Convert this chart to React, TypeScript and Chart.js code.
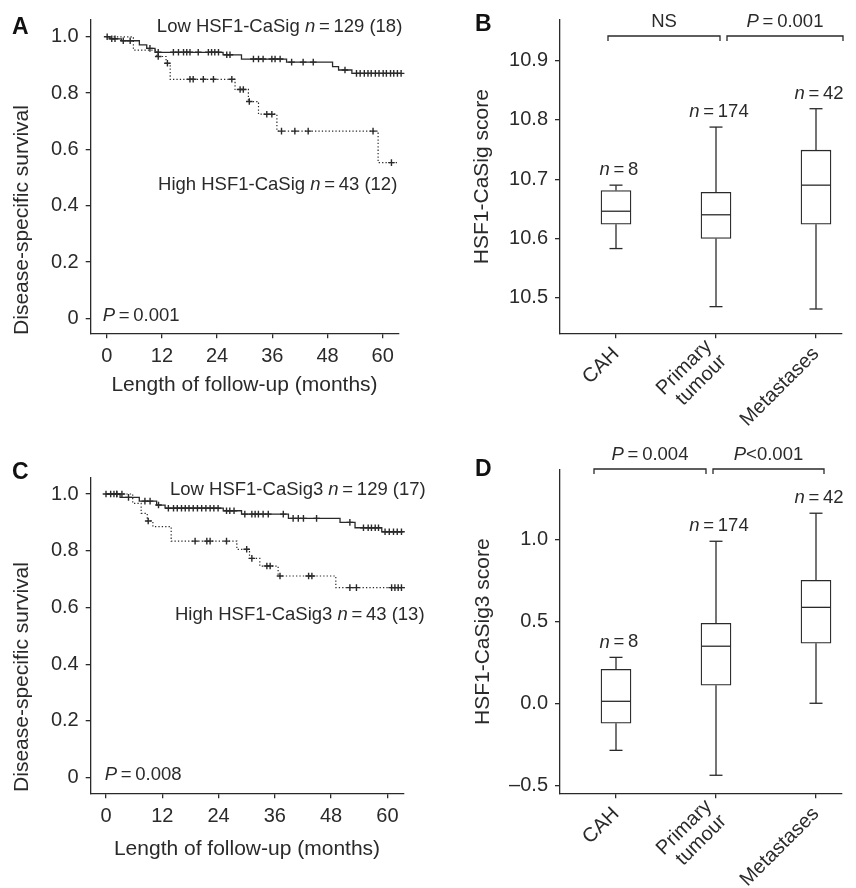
import React, { useEffect, useRef } from 'react';
import { Chart, registerables } from 'chart.js';

Chart.register(...registerables);

const FONT = "'Liberation Sans', Arial, Helvetica, sans-serif";
const INK = '#2a2a2a';
const TICK_SIZE = 20;
const TITLE_SIZE = 21;
const NOTE_SIZE = 18.5;
const LETTER_SIZE = 23;
const PANEL_W = 428;
const PANEL_H = 444;

// ---------- Kaplan-Meier panels (A, C) ----------
const monthTicks = [0, 12, 24, 36, 48, 60];
const survivalTicks = [0, 0.2, 0.4, 0.6, 0.8, 1.0];

// Panel A: HSF1-CaSig
const aLowTimes = [0, 0.7, 3.2, 7.1, 8.7, 10.5, 25.3, 29.3, 39.1, 49.1, 50.4, 53.3, 64.0];
const aLowSurvival = [1.0, 0.993, 0.986, 0.971, 0.959, 0.945, 0.936, 0.921, 0.91, 0.894, 0.882, 0.87, 0.87];
const aLowCensored = [0.1, 1.1, 1.8, 3.6, 5.1, 9.4, 11.2, 14.5, 15.6, 16.7, 17.4, 18.1, 19.9, 22.1, 22.8, 23.5, 24.3, 26.1, 26.8, 31.9, 33.0, 34.0, 35.9, 36.6, 37.7, 40.2, 42.7, 44.9, 51.8, 54.3, 55.1, 56.0, 56.8, 57.5, 58.4, 59.2, 60.1, 60.8, 61.7, 62.4, 63.2, 64.0];
const aHighTimes = [0, 5.8, 10.9, 12.9, 13.8, 27.9, 30.8, 33.0, 37.0, 59.0, 63.4];
const aHighSurvival = [1.0, 0.953, 0.93, 0.906, 0.849, 0.813, 0.77, 0.725, 0.665, 0.553, 0.553];
const aHighCensored = [11.2, 13.2, 18.1, 18.8, 21.0, 23.2, 27.2, 29.0, 29.7, 31.0, 34.8, 35.9, 38.0, 40.9, 43.8, 57.9, 61.9];

// Panel C: HSF1-CaSig3
const cLowTimes = [0, 3.0, 7.1, 10.8, 12.6, 25.0, 28.9, 38.9, 49.9, 53.1, 58.8, 63.4];
const cLowSurvival = [1.0, 0.988, 0.975, 0.961, 0.95, 0.941, 0.929, 0.914, 0.9, 0.881, 0.867, 0.867];
const cLowCensored = [0, 1.0, 1.7, 2.3, 4.8, 8.3, 9.4, 11.2, 13.3, 14.4, 15.2, 16.1, 16.9, 17.7, 18.6, 19.5, 20.4, 21.3, 22.2, 23.0, 23.9, 25.7, 26.4, 27.3, 29.6, 31.1, 31.8, 32.5, 33.5, 34.6, 37.8, 39.9, 41.0, 42.1, 44.9, 52.0, 54.9, 55.9, 56.6, 57.4, 58.1, 59.5, 60.4, 61.3, 62.1, 63.0];
const cHighTimes = [0, 5.7, 7.5, 8.8, 10.0, 13.9, 27.9, 30.6, 32.8, 36.7, 49.0, 64.1];
const cHighSurvival = [1.0, 0.967, 0.932, 0.905, 0.885, 0.834, 0.805, 0.773, 0.746, 0.711, 0.67, 0.67];
const cHighCensored = [2.3, 3.4, 9.0, 19.0, 21.5, 22.2, 25.7, 30.0, 31.1, 34.3, 35.0, 37.1, 43.2, 43.9, 52.0, 53.4, 60.9, 61.6, 62.3, 63.0];

// ---------- Box-plot panels (B, D) ----------
const groups = ['CAH', 'Primary tumour', 'Metastases'];
const groupTickLabels = [['CAH'], ['Primary', 'tumour'], ['Metastases']];
const groupN = [8, 174, 42];

const bTicks = [10.5, 10.6, 10.7, 10.8, 10.9];
const bMin = [10.583, 10.485, 10.481];
const bQ1 = [10.624, 10.6, 10.624];
const bMedian = [10.646, 10.64, 10.69];
const bQ3 = [10.681, 10.678, 10.749];
const bMax = [10.69, 10.788, 10.819];

const dTicks = [-0.5, 0, 0.5, 1.0];
const dMin = [-0.287, -0.439, 0.0];
const dQ1 = [-0.122, 0.11, 0.366];
const dMedian = [0.012, 0.348, 0.585];
const dQ3 = [0.207, 0.488, 0.75];
const dMax = [0.28, 0.988, 1.159];

// ---------- helpers ----------
type Part = [string, boolean];

function richText(ctx: any, parts: Part[], x: number, y: number, align: string, size: number) {
  const normal = `${size}px ${FONT}`;
  const italic = `italic ${size}px ${FONT}`;
  let total = 0;
  const widths = parts.map(([t, it]) => {
    ctx.font = it ? italic : normal;
    const w = ctx.measureText(t).width;
    total += w;
    return w;
  });
  let cx = align === 'left' ? x : align === 'right' ? x - total : x - total / 2;
  ctx.textAlign = 'left';
  ctx.textBaseline = 'middle';
  ctx.fillStyle = INK;
  parts.forEach(([t, it], i) => {
    ctx.font = it ? italic : normal;
    ctx.fillText(t, cx, y);
    cx += widths[i];
  });
}

function letter(ctx: any, t: string, x: number, baseline: number) {
  ctx.save();
  ctx.font = `bold ${LETTER_SIZE}px ${FONT}`;
  ctx.fillStyle = '#111';
  ctx.textAlign = 'left';
  ctx.textBaseline = 'alphabetic';
  ctx.fillText(t, x, baseline);
  ctx.restore();
}

function verticalTitle(ctx: any, t: string, cx: number, cy: number) {
  ctx.save();
  ctx.translate(cx, cy);
  ctx.rotate(-Math.PI / 2);
  ctx.font = `${TITLE_SIZE}px ${FONT}`;
  ctx.fillStyle = INK;
  ctx.textAlign = 'center';
  ctx.textBaseline = 'middle';
  ctx.fillText(t, 0, 0);
  ctx.restore();
}

function survivalAt(times: number[], surv: number[], t: number) {
  let s = surv[0];
  for (let i = 0; i < times.length; i++) if (times[i] <= t) s = surv[i];
  return s;
}

const axisGrid = { display: true, drawOnChartArea: false, drawTicks: true, tickLength: 5, color: INK, lineWidth: 1.3 };
const axisBorder = { display: true, color: INK, width: 1.3 };
const tickFont = { family: FONT, size: TICK_SIZE };

function kmConfig(s: any) {
  const step = (times: number[], surv: number[]) => times.map((t, i) => ({ x: t, y: surv[i] }));
  const marks = (times: number[], surv: number[], cens: number[]) => cens.map((t) => ({ x: t, y: survivalAt(times, surv, t) }));
  const markStyle = { showLine: false, pointStyle: 'cross', pointRadius: 3.3, pointBorderWidth: 1.4, pointBorderColor: INK, pointBackgroundColor: INK, borderWidth: 0, clip: false };
  return {
    type: 'line',
    data: {
      datasets: [
        { label: 'Low', data: step(s.lowT, s.lowS), stepped: 'before', borderColor: INK, borderWidth: 1.3, pointRadius: 0, fill: false, clip: false },
        { label: 'Low censored', data: marks(s.lowT, s.lowS, s.lowC), ...markStyle },
        { label: 'High', data: step(s.highT, s.highS), stepped: 'before', borderColor: INK, borderWidth: 1.2, borderDash: [1.3, 2.1], pointRadius: 0, fill: false, clip: false },
        { label: 'High censored', data: marks(s.highT, s.highS, s.highC), ...markStyle },
      ],
    },
    options: {
      responsive: false,
      animation: false,
      events: [],
      layout: { padding: { left: 0, top: s.top, right: PANEL_W - s.right, bottom: 0 } },
      plugins: { legend: { display: false }, tooltip: { enabled: false } },
      scales: {
        x: {
          type: 'linear', min: s.xMin, max: s.xMax,
          afterBuildTicks: (sc: any) => { sc.ticks = monthTicks.map((v) => ({ value: v })); },
          afterFit: (sc: any) => { sc.height = PANEL_H - s.bottom; },
          grid: axisGrid, border: axisBorder,
          ticks: { font: tickFont, color: INK, padding: 6, maxRotation: 0, callback: (v: any) => String(v) },
          title: { display: true, text: 'Length of follow-up (months)', color: INK, font: { family: FONT, size: TITLE_SIZE }, padding: { top: 0, bottom: s.xTitlePad } },
        },
        y: {
          type: 'linear', min: s.yMin, max: s.yMax,
          afterBuildTicks: (sc: any) => { sc.ticks = survivalTicks.map((v) => ({ value: v })); },
          afterFit: (sc: any) => { sc.width = s.left; },
          grid: axisGrid, border: axisBorder,
          ticks: { font: tickFont, color: INK, padding: 7, callback: (v: any) => (v === 0 ? '0' : Number(v).toFixed(1)) },
        },
      },
    },
    plugins: [{ id: 'kmNotes', afterDraw: (chart: any) => s.draw(chart) }],
  };
}

function boxConfig(s: any) {
  return {
    type: 'bar',
    data: {
      datasets: [{
        label: 'IQR',
        data: groups.map((_, i) => ({ x: i, y: [s.q1[i], s.q3[i]] })),
        backgroundColor: '#ffffff', borderColor: INK, borderWidth: 1.3, borderSkipped: false, barThickness: 30, grouped: false,
      }],
    },
    options: {
      responsive: false,
      animation: false,
      events: [],
      layout: { padding: { left: 0, top: s.top, right: PANEL_W - s.right, bottom: 0 } },
      plugins: { legend: { display: false }, tooltip: { enabled: false } },
      scales: {
        x: {
          type: 'linear', min: -0.56, max: 2.26, offset: false,
          afterBuildTicks: (sc: any) => { sc.ticks = groups.map((_, i) => ({ value: i })); },
          afterFit: (sc: any) => { sc.height = PANEL_H - s.bottom; },
          grid: { ...axisGrid, offset: false }, border: axisBorder,
          ticks: { display: false },
        },
        y: {
          type: 'linear', min: s.yMin, max: s.yMax,
          afterBuildTicks: (sc: any) => { sc.ticks = s.ticks.map((v: number) => ({ value: v })); },
          afterFit: (sc: any) => { sc.width = s.left; },
          grid: axisGrid, border: axisBorder,
          ticks: { font: tickFont, color: INK, padding: 7, callback: s.fmt },
          title: { display: true, text: s.yTitle, color: INK, font: { family: FONT, size: TITLE_SIZE }, padding: { top: s.yTitlePad, bottom: 0 } },
        },
      },
    },
    plugins: [{
      id: 'boxParts',
      afterDatasetsDraw: (chart: any) => {
        const ctx = chart.ctx; const xs = chart.scales.x; const ys = chart.scales.y;
        ctx.save();
        ctx.strokeStyle = INK; ctx.lineWidth = 1.3;
        const seg = (x1: number, y1: number, x2: number, y2: number) => { ctx.beginPath(); ctx.moveTo(x1, y1); ctx.lineTo(x2, y2); ctx.stroke(); };
        groups.forEach((_, i) => {
          const x = xs.getPixelForValue(i);
          seg(x - 14.5, ys.getPixelForValue(s.med[i]), x + 14.5, ys.getPixelForValue(s.med[i]));
          seg(x, ys.getPixelForValue(s.q3[i]), x, ys.getPixelForValue(s.max[i]));
          seg(x - 6.5, ys.getPixelForValue(s.max[i]), x + 6.5, ys.getPixelForValue(s.max[i]));
          seg(x, ys.getPixelForValue(s.q1[i]), x, ys.getPixelForValue(s.min[i]));
          seg(x - 6.5, ys.getPixelForValue(s.min[i]), x + 6.5, ys.getPixelForValue(s.min[i]));
        });
        ctx.restore();
      },
      afterDraw: (chart: any) => {
        const ctx = chart.ctx; const xs = chart.scales.x; const ys = chart.scales.y;
        ctx.save();
        ctx.strokeStyle = INK; ctx.lineWidth = 1.3;
        s.brackets.forEach((b: any) => {
          const x1 = xs.getPixelForValue(b.from); const x2 = xs.getPixelForValue(b.to);
          const y = ys.getPixelForValue(s.bracketY);
          ctx.beginPath(); ctx.moveTo(x1, y + 5); ctx.lineTo(x1, y); ctx.lineTo(x2, y); ctx.lineTo(x2, y + 5); ctx.stroke();
          richText(ctx, b.text, (x1 + x2) / 2, y - 14, 'center', NOTE_SIZE);
        });
        groups.forEach((_, i) => {
          const x = xs.getPixelForValue(i) + 3;
          const y = ys.getPixelForValue(s.max[i]) - 15;
          richText(ctx, [['n', true], ['\u2009=\u2009' + groupN[i], false]], x, y, 'center', NOTE_SIZE);
        });
        // rotated category labels, ending at each tick
        const axisY = chart.chartArea.bottom;
        groups.forEach((_, i) => {
          const lines = groupTickLabels[i];
          ctx.save();
          ctx.translate(xs.getPixelForValue(i), axisY + 17.5);
          ctx.rotate(-Math.PI / 4);
          ctx.font = `${TICK_SIZE}px ${FONT}`;
          ctx.fillStyle = INK;
          ctx.textAlign = 'right';
          ctx.textBaseline = 'middle';
          lines.forEach((ln, j) => ctx.fillText(ln, 0, (j - (lines.length - 1) / 2) * 21));
          ctx.restore();
        });
        letter(ctx, s.letter, 47, s.letterY);
        ctx.restore();
      },
    }],
  };
}

const panelA = () => kmConfig({
  lowT: aLowTimes, lowS: aLowSurvival, lowC: aLowCensored,
  highT: aHighTimes, highS: aHighSurvival, highC: aHighCensored,
  left: 90.7, right: 398.3, top: 20, bottom: 333.3,
  xMin: -3.48, xMax: 63.39, yMin: -0.0533, yMax: 1.0597, xTitlePad: 46.4,
  draw: (chart: any) => {
    const ctx = chart.ctx; const a = chart.chartArea; const ys = chart.scales.y;
    ctx.save();
    richText(ctx, [['Low HSF1-CaSig ', false], ['n', true], ['\u2009=\u2009129 (18)', false]], a.right + 4, a.top + 7, 'right', NOTE_SIZE);
    richText(ctx, [['High HSF1-CaSig ', false], ['n', true], ['\u2009=\u200943 (12)', false]], a.right - 1, ys.getPixelForValue(0.474), 'right', NOTE_SIZE);
    richText(ctx, [['P', true], ['\u2009=\u20090.001', false]], a.left + 12, ys.getPixelForValue(0) - 2, 'left', NOTE_SIZE);
    verticalTitle(ctx, 'Disease-specific survival', 22, 220);
    letter(ctx, 'A', 12, 34);
    ctx.restore();
  },
});

const panelC = () => kmConfig({
  lowT: cLowTimes, lowS: cLowSurvival, lowC: cLowCensored,
  highT: cHighTimes, highS: cHighSurvival, highC: cHighCensored,
  left: 90.7, right: 403.3, top: 34, bottom: 349.3,
  xMin: -3.26, xMax: 63.39, yMin: -0.055, yMax: 1.0564, xTitlePad: 26.4,
  draw: (chart: any) => {
    const ctx = chart.ctx; const a = chart.chartArea; const ys = chart.scales.y;
    ctx.save();
    richText(ctx, [['Low HSF1-CaSig3 ', false], ['n', true], ['\u2009=\u2009129 (17)', false]], 170, a.top + 12, 'left', NOTE_SIZE);
    richText(ctx, [['High HSF1-CaSig3 ', false], ['n', true], ['\u2009=\u200943 (13)', false]], 175, ys.getPixelForValue(0.573), 'left', NOTE_SIZE);
    richText(ctx, [['P', true], ['\u2009=\u20090.008', false]], a.left + 14, ys.getPixelForValue(0) - 3, 'left', NOTE_SIZE);
    verticalTitle(ctx, 'Disease-specific survival', 22, 233);
    letter(ctx, 'C', 12, 35);
    ctx.restore();
  },
});

const panelB = () => boxConfig({
  min: bMin, q1: bQ1, med: bMedian, q3: bQ3, max: bMax, ticks: bTicks,
  fmt: (v: any) => Number(v).toFixed(1),
  left: 132, right: 414, top: 20, bottom: 333.3, yMin: 10.44, yMax: 10.9687,
  yTitle: 'HSF1-CaSig score', yTitlePad: 41.4,
  bracketY: 10.9417,
  brackets: [
    { from: -0.08, to: 1.04, text: [['NS', false]] },
    { from: 1.11, to: 2.27, text: [['P', true], ['\u2009=\u20090.001', false]] },
  ],
  letter: 'B', letterY: 31,
});

const panelD = () => boxConfig({
  min: dMin, q1: dQ1, med: dMedian, q3: dQ3, max: dMax, ticks: dTicks,
  fmt: (v: any) => (v < 0 ? '\u2013' + Math.abs(v).toFixed(1) : Number(v).toFixed(1)),
  left: 132, right: 414, top: 26, bottom: 349.3, yMin: -0.549, yMax: 1.4226,
  yTitle: 'HSF1-CaSig3 score', yTitlePad: 42.4,
  bracketY: 1.4287,
  brackets: [
    { from: -0.22, to: 0.9, text: [['P', true], ['\u2009=\u20090.004', false]] },
    { from: 0.97, to: 2.08, text: [['P', true], ['<0.001', false]] },
  ],
  letter: 'D', letterY: 32,
});

function ChartCanvas({ make, left, top }: any) {
  const ref = useRef<HTMLCanvasElement>(null);
  useEffect(() => {
    const chart = new Chart(ref.current as any, make() as any);
    return () => chart.destroy();
  }, []);
  return (
    <canvas
      ref={ref}
      width={PANEL_W}
      height={PANEL_H}
      style={{ position: 'absolute', left, top, width: PANEL_W, height: PANEL_H, display: 'block' }}
    />
  );
}

export default function App() {
  return (
    <div style={{ position: 'absolute', left: 0, top: 0, width: 856, height: 888, background: '#ffffff', overflow: 'hidden' }}>
      <ChartCanvas make={panelA} left={0} top={0} />
      <ChartCanvas make={panelB} left={PANEL_W} top={0} />
      <ChartCanvas make={panelC} left={0} top={PANEL_H} />
      <ChartCanvas make={panelD} left={PANEL_W} top={PANEL_H} />
    </div>
  );
}
